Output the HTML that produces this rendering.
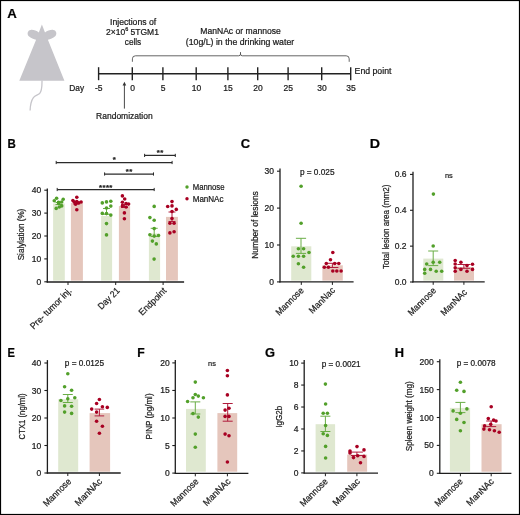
<!DOCTYPE html>
<html><head><meta charset="utf-8"><style>
html,body{margin:0;padding:0;background:#fff;}
body{width:520px;height:515px;overflow:hidden;}
svg{display:block;font-family:"Liberation Sans", sans-serif;will-change:transform;} text{stroke:#1a1a1a;stroke-width:0.22px;}
</style></head><body>
<svg width="520" height="515" viewBox="0 0 520 515">
<rect x="0" y="0" width="520" height="515" fill="#fff"/>
<g transform="translate(-0.760,0) scale(1.1000,1)"><text x="7.30" y="17.70" font-size="12" font-weight="bold" fill="#000">A</text></g>
<path d="M41.9,24.4 L45.0,32.6 C47.4,30.6 50.6,29.6 53.3,29.9 C56.6,30.3 57.2,34.2 55.2,36.2 C53.2,38.2 50.2,38.9 47.9,39.7 L64.4,80.7 L19.3,80.7 L36.1,39.7 C33.8,38.9 30.8,38.2 28.8,36.2 C26.8,34.2 27.4,30.3 30.7,29.9 C33.4,29.6 36.5,30.6 38.8,32.6 Z" fill="#c6c5ca"/>
<path d="M42,80.5 C42,86 42.2,91 39.6,93.6 C37.6,95.4 35.3,95.2 33.4,97.6 C31.2,100.6 30.3,105 30.1,110.5" fill="none" stroke="#c6c5ca" stroke-width="1.3"/>
<line x1="98.60" y1="73.80" x2="350.70" y2="73.80" stroke="#222" stroke-width="1.4"/>
<line x1="98.60" y1="67.20" x2="98.60" y2="80.20" stroke="#222" stroke-width="1.4"/>
<text x="98.80" y="90.70" font-size="8.5" text-anchor="middle" font-weight="normal" fill="#1a1a1a">-5</text>
<line x1="132.30" y1="67.20" x2="132.30" y2="80.20" stroke="#222" stroke-width="1.4"/>
<text x="132.50" y="90.70" font-size="8.5" text-anchor="middle" font-weight="normal" fill="#1a1a1a">0</text>
<line x1="162.90" y1="67.20" x2="162.90" y2="80.20" stroke="#222" stroke-width="1.4"/>
<text x="163.10" y="90.70" font-size="8.5" text-anchor="middle" font-weight="normal" fill="#1a1a1a">5</text>
<line x1="196.20" y1="67.20" x2="196.20" y2="80.20" stroke="#222" stroke-width="1.4"/>
<text x="196.40" y="90.70" font-size="8.5" text-anchor="middle" font-weight="normal" fill="#1a1a1a">10</text>
<line x1="227.90" y1="67.20" x2="227.90" y2="80.20" stroke="#222" stroke-width="1.4"/>
<text x="228.10" y="90.70" font-size="8.5" text-anchor="middle" font-weight="normal" fill="#1a1a1a">15</text>
<line x1="257.70" y1="67.20" x2="257.70" y2="80.20" stroke="#222" stroke-width="1.4"/>
<text x="257.90" y="90.70" font-size="8.5" text-anchor="middle" font-weight="normal" fill="#1a1a1a">20</text>
<line x1="288.10" y1="67.20" x2="288.10" y2="80.20" stroke="#222" stroke-width="1.4"/>
<text x="288.30" y="90.70" font-size="8.5" text-anchor="middle" font-weight="normal" fill="#1a1a1a">25</text>
<line x1="321.70" y1="67.20" x2="321.70" y2="80.20" stroke="#222" stroke-width="1.4"/>
<text x="321.90" y="90.70" font-size="8.5" text-anchor="middle" font-weight="normal" fill="#1a1a1a">30</text>
<line x1="350.70" y1="67.20" x2="350.70" y2="80.20" stroke="#222" stroke-width="1.4"/>
<text x="350.90" y="90.70" font-size="8.5" text-anchor="middle" font-weight="normal" fill="#1a1a1a">35</text>
<text x="69.30" y="90.70" font-size="8.5" text-anchor="start" font-weight="normal" fill="#1a1a1a" textLength="14.80" lengthAdjust="spacingAndGlyphs">Day</text>
<text x="354.60" y="73.90" font-size="8.5" text-anchor="start" font-weight="normal" fill="#1a1a1a" textLength="36.80" lengthAdjust="spacingAndGlyphs">End point</text>
<line x1="124.40" y1="84.00" x2="124.40" y2="108.60" stroke="#333" stroke-width="0.9"/>
<path d="M124.4,81.8 L122.6,85.6 L126.2,85.6 Z" fill="#333"/>
<text x="96.10" y="119.30" font-size="8.5" text-anchor="start" font-weight="normal" fill="#1a1a1a" textLength="56.60" lengthAdjust="spacingAndGlyphs">Randomization</text>
<text x="110.00" y="24.50" font-size="8.5" text-anchor="start" font-weight="normal" fill="#1a1a1a" textLength="46.20" lengthAdjust="spacingAndGlyphs">Injections of</text>
<text x="106.0" y="34.7" font-size="8.5" fill="#1a1a1a">2×10<tspan font-size="5.5" dy="-3.3">6</tspan><tspan dy="3.3"> 5TGM1</tspan></text>
<text x="124.80" y="44.70" font-size="8.5" text-anchor="start" font-weight="normal" fill="#1a1a1a" textLength="16.40" lengthAdjust="spacingAndGlyphs">cells</text>
<text x="200.30" y="34.40" font-size="8.5" text-anchor="start" font-weight="normal" fill="#1a1a1a" textLength="80.50" lengthAdjust="spacingAndGlyphs">ManNAc or mannose</text>
<text x="185.80" y="44.60" font-size="8.5" text-anchor="start" font-weight="normal" fill="#1a1a1a" textLength="108.40" lengthAdjust="spacingAndGlyphs">(10g/L) in the drinking water</text>
<path d="M132.4,61.8 L132.4,58.8 Q132.4,55.8 135.4,55.8 L238.8,55.8 Q240.5,55.8 240.5,54.0 L240.5,52.3 L240.5,54.0 Q240.5,55.8 242.2,55.8 L346.2,55.8 Q349.2,55.8 349.2,58.8 L349.2,61.8" fill="none" stroke="#555" stroke-width="0.9"/>
<g transform="translate(-0.064,0) scale(0.9600,1)"><text x="7.80" y="147.80" font-size="12" font-weight="bold" fill="#000">B</text></g>
<line x1="47.30" y1="188.60" x2="47.30" y2="282.60" stroke="#1e1e1e" stroke-width="1.3"/>
<line x1="44.30" y1="281.80" x2="47.30" y2="281.80" stroke="#1e1e1e" stroke-width="1.1"/>
<text x="41.30" y="284.80" font-size="8.5" text-anchor="end" font-weight="normal" fill="#1a1a1a">0</text>
<line x1="44.30" y1="258.90" x2="47.30" y2="258.90" stroke="#1e1e1e" stroke-width="1.1"/>
<text x="41.30" y="261.90" font-size="8.5" text-anchor="end" font-weight="normal" fill="#1a1a1a">10</text>
<line x1="44.30" y1="236.00" x2="47.30" y2="236.00" stroke="#1e1e1e" stroke-width="1.1"/>
<text x="41.30" y="239.00" font-size="8.5" text-anchor="end" font-weight="normal" fill="#1a1a1a">20</text>
<line x1="44.30" y1="213.10" x2="47.30" y2="213.10" stroke="#1e1e1e" stroke-width="1.1"/>
<text x="41.30" y="216.10" font-size="8.5" text-anchor="end" font-weight="normal" fill="#1a1a1a">30</text>
<line x1="44.30" y1="190.20" x2="47.30" y2="190.20" stroke="#1e1e1e" stroke-width="1.1"/>
<text x="41.30" y="193.20" font-size="8.5" text-anchor="end" font-weight="normal" fill="#1a1a1a">40</text>
<rect x="53.10" y="203.50" width="11.70" height="77.10" fill="#dfe8d0"/>
<rect x="70.90" y="202.80" width="12.00" height="77.80" fill="#e5c6bc"/>
<rect x="101.10" y="216.00" width="11.00" height="64.60" fill="#dfe8d0"/>
<rect x="118.90" y="206.10" width="11.20" height="74.50" fill="#e5c6bc"/>
<rect x="148.90" y="233.50" width="11.20" height="47.10" fill="#dfe8d0"/>
<rect x="166.00" y="216.90" width="11.90" height="63.70" fill="#e5c6bc"/>
<line x1="46.70" y1="282.00" x2="184.10" y2="282.00" stroke="#1e1e1e" stroke-width="1.3"/>
<line x1="68.00" y1="282.00" x2="68.00" y2="285.00" stroke="#1e1e1e" stroke-width="1.0"/>
<line x1="115.70" y1="282.00" x2="115.70" y2="285.00" stroke="#1e1e1e" stroke-width="1.0"/>
<line x1="163.10" y1="282.00" x2="163.10" y2="285.00" stroke="#1e1e1e" stroke-width="1.0"/>
<line x1="106.50" y1="208.50" x2="106.50" y2="214.30" stroke="#6aad46" stroke-width="1.0"/>
<line x1="103.00" y1="208.50" x2="110.00" y2="208.50" stroke="#6aad46" stroke-width="1.0"/>
<line x1="103.00" y1="214.30" x2="110.00" y2="214.30" stroke="#6aad46" stroke-width="1.0"/>
<line x1="154.20" y1="228.30" x2="154.20" y2="236.50" stroke="#6aad46" stroke-width="1.0"/>
<line x1="150.70" y1="228.30" x2="157.70" y2="228.30" stroke="#6aad46" stroke-width="1.0"/>
<line x1="150.70" y1="236.50" x2="157.70" y2="236.50" stroke="#6aad46" stroke-width="1.0"/>
<line x1="172.00" y1="212.00" x2="172.00" y2="221.50" stroke="#b01c3c" stroke-width="1.0"/>
<line x1="168.50" y1="212.00" x2="175.50" y2="212.00" stroke="#b01c3c" stroke-width="1.0"/>
<line x1="168.50" y1="221.50" x2="175.50" y2="221.50" stroke="#b01c3c" stroke-width="1.0"/>
<line x1="59.00" y1="202.50" x2="59.00" y2="204.50" stroke="#6aad46" stroke-width="1.0"/>
<line x1="55.50" y1="202.50" x2="62.50" y2="202.50" stroke="#6aad46" stroke-width="1.0"/>
<line x1="55.50" y1="204.50" x2="62.50" y2="204.50" stroke="#6aad46" stroke-width="1.0"/>
<line x1="76.80" y1="201.80" x2="76.80" y2="203.80" stroke="#b01c3c" stroke-width="1.0"/>
<line x1="73.30" y1="201.80" x2="80.30" y2="201.80" stroke="#b01c3c" stroke-width="1.0"/>
<line x1="73.30" y1="203.80" x2="80.30" y2="203.80" stroke="#b01c3c" stroke-width="1.0"/>
<line x1="124.50" y1="204.50" x2="124.50" y2="207.50" stroke="#b01c3c" stroke-width="1.0"/>
<line x1="121.00" y1="204.50" x2="128.00" y2="204.50" stroke="#b01c3c" stroke-width="1.0"/>
<line x1="121.00" y1="207.50" x2="128.00" y2="207.50" stroke="#b01c3c" stroke-width="1.0"/>
<circle cx="56.60" cy="198.30" r="1.8" fill="#52a02a"/>
<circle cx="63.20" cy="199.30" r="1.8" fill="#52a02a"/>
<circle cx="54.30" cy="200.80" r="1.8" fill="#52a02a"/>
<circle cx="58.50" cy="202.40" r="1.8" fill="#52a02a"/>
<circle cx="61.70" cy="202.00" r="1.8" fill="#52a02a"/>
<circle cx="61.70" cy="205.90" r="1.8" fill="#52a02a"/>
<circle cx="59.30" cy="207.00" r="1.8" fill="#52a02a"/>
<circle cx="56.20" cy="208.40" r="1.8" fill="#52a02a"/>
<circle cx="58.80" cy="203.40" r="1.8" fill="#52a02a"/>
<circle cx="102.30" cy="202.90" r="1.8" fill="#52a02a"/>
<circle cx="106.50" cy="201.90" r="1.8" fill="#52a02a"/>
<circle cx="110.80" cy="201.20" r="1.8" fill="#52a02a"/>
<circle cx="110.80" cy="206.10" r="1.8" fill="#52a02a"/>
<circle cx="106.50" cy="208.00" r="1.8" fill="#52a02a"/>
<circle cx="102.30" cy="213.40" r="1.8" fill="#52a02a"/>
<circle cx="106.50" cy="213.60" r="1.8" fill="#52a02a"/>
<circle cx="110.80" cy="215.10" r="1.8" fill="#52a02a"/>
<circle cx="106.50" cy="223.60" r="1.8" fill="#52a02a"/>
<circle cx="106.50" cy="234.90" r="1.8" fill="#52a02a"/>
<circle cx="154.20" cy="228.60" r="1.8" fill="#52a02a"/>
<circle cx="154.20" cy="206.40" r="1.8" fill="#52a02a"/>
<circle cx="149.90" cy="217.60" r="1.8" fill="#52a02a"/>
<circle cx="154.20" cy="220.30" r="1.8" fill="#52a02a"/>
<circle cx="149.90" cy="234.70" r="1.8" fill="#52a02a"/>
<circle cx="154.20" cy="236.10" r="1.8" fill="#52a02a"/>
<circle cx="158.50" cy="235.50" r="1.8" fill="#52a02a"/>
<circle cx="152.40" cy="241.10" r="1.8" fill="#52a02a"/>
<circle cx="156.30" cy="243.90" r="1.8" fill="#52a02a"/>
<circle cx="154.10" cy="259.10" r="1.8" fill="#52a02a"/>
<circle cx="76.80" cy="197.30" r="1.8" fill="#a80022"/>
<circle cx="72.90" cy="200.60" r="1.8" fill="#a80022"/>
<circle cx="76.80" cy="201.60" r="1.8" fill="#a80022"/>
<circle cx="81.10" cy="202.00" r="1.8" fill="#a80022"/>
<circle cx="75.60" cy="204.30" r="1.8" fill="#a80022"/>
<circle cx="76.80" cy="209.80" r="1.8" fill="#a80022"/>
<circle cx="78.50" cy="203.00" r="1.8" fill="#a80022"/>
<circle cx="74.30" cy="202.00" r="1.8" fill="#a80022"/>
<circle cx="122.40" cy="195.90" r="1.8" fill="#a80022"/>
<circle cx="124.70" cy="199.00" r="1.8" fill="#a80022"/>
<circle cx="122.40" cy="202.20" r="1.8" fill="#a80022"/>
<circle cx="126.10" cy="203.50" r="1.8" fill="#a80022"/>
<circle cx="128.60" cy="204.10" r="1.8" fill="#a80022"/>
<circle cx="122.40" cy="206.10" r="1.8" fill="#a80022"/>
<circle cx="126.10" cy="207.00" r="1.8" fill="#a80022"/>
<circle cx="124.40" cy="212.90" r="1.8" fill="#a80022"/>
<circle cx="124.40" cy="218.70" r="1.8" fill="#a80022"/>
<circle cx="172.00" cy="201.60" r="1.8" fill="#a80022"/>
<circle cx="167.70" cy="206.50" r="1.8" fill="#a80022"/>
<circle cx="172.00" cy="205.90" r="1.8" fill="#a80022"/>
<circle cx="176.30" cy="209.40" r="1.8" fill="#a80022"/>
<circle cx="172.00" cy="211.50" r="1.8" fill="#a80022"/>
<circle cx="172.00" cy="218.50" r="1.8" fill="#a80022"/>
<circle cx="169.90" cy="223.30" r="1.8" fill="#a80022"/>
<circle cx="174.10" cy="223.30" r="1.8" fill="#a80022"/>
<circle cx="169.90" cy="232.90" r="1.8" fill="#a80022"/>
<circle cx="174.10" cy="231.80" r="1.8" fill="#a80022"/>
<text x="0" y="0" font-size="8.8" text-anchor="middle" fill="#1a1a1a" textLength="51.50" lengthAdjust="spacingAndGlyphs" transform="translate(24.00,234.50) rotate(-90)">Sialylation (%)</text>
<text x="0" y="0" font-size="9.2" text-anchor="end" fill="#1a1a1a" textLength="54.50" lengthAdjust="spacingAndGlyphs" transform="translate(72.30,291.30) rotate(-45)">Pre- tumor inj.</text>
<text x="0" y="0" font-size="9.2" text-anchor="end" fill="#1a1a1a" textLength="26.50" lengthAdjust="spacingAndGlyphs" transform="translate(120.30,291.30) rotate(-45)">Day 21</text>
<text x="0" y="0" font-size="9.2" text-anchor="end" fill="#1a1a1a" textLength="35.00" lengthAdjust="spacingAndGlyphs" transform="translate(167.00,291.30) rotate(-45)">Endpoint</text>
<line x1="144.60" y1="155.40" x2="175.30" y2="155.40" stroke="#2a2a2a" stroke-width="1.25"/>
<line x1="144.60" y1="153.80" x2="144.60" y2="157.00" stroke="#2a2a2a" stroke-width="1.0"/>
<line x1="175.30" y1="153.80" x2="175.30" y2="157.00" stroke="#2a2a2a" stroke-width="1.0"/>
<text x="158.22" y="155.00" font-size="7.8" text-anchor="middle" font-weight="bold" fill="#222">*</text>
<text x="161.67" y="155.00" font-size="7.8" text-anchor="middle" font-weight="bold" fill="#222">*</text>
<line x1="56.20" y1="162.50" x2="172.10" y2="162.50" stroke="#2a2a2a" stroke-width="1.25"/>
<line x1="56.20" y1="160.90" x2="56.20" y2="164.10" stroke="#2a2a2a" stroke-width="1.0"/>
<line x1="172.10" y1="160.90" x2="172.10" y2="164.10" stroke="#2a2a2a" stroke-width="1.0"/>
<text x="114.15" y="162.20" font-size="7.8" text-anchor="middle" font-weight="bold" fill="#222">*</text>
<line x1="104.60" y1="174.00" x2="153.50" y2="174.00" stroke="#2a2a2a" stroke-width="1.25"/>
<line x1="104.60" y1="172.40" x2="104.60" y2="175.60" stroke="#2a2a2a" stroke-width="1.0"/>
<line x1="153.50" y1="172.40" x2="153.50" y2="175.60" stroke="#2a2a2a" stroke-width="1.0"/>
<text x="127.33" y="173.70" font-size="7.8" text-anchor="middle" font-weight="bold" fill="#222">*</text>
<text x="130.78" y="173.70" font-size="7.8" text-anchor="middle" font-weight="bold" fill="#222">*</text>
<line x1="57.20" y1="189.50" x2="154.20" y2="189.50" stroke="#2a2a2a" stroke-width="1.25"/>
<line x1="57.20" y1="187.90" x2="57.20" y2="191.10" stroke="#2a2a2a" stroke-width="1.0"/>
<line x1="154.20" y1="187.90" x2="154.20" y2="191.10" stroke="#2a2a2a" stroke-width="1.0"/>
<text x="100.52" y="189.60" font-size="7.8" text-anchor="middle" font-weight="bold" fill="#222">*</text>
<text x="103.97" y="189.60" font-size="7.8" text-anchor="middle" font-weight="bold" fill="#222">*</text>
<text x="107.42" y="189.60" font-size="7.8" text-anchor="middle" font-weight="bold" fill="#222">*</text>
<text x="110.87" y="189.60" font-size="7.8" text-anchor="middle" font-weight="bold" fill="#222">*</text>
<circle cx="187.00" cy="187.00" r="1.7" fill="#52a02a"/>
<circle cx="187.00" cy="198.80" r="1.7" fill="#a80022"/>
<text x="192.70" y="189.60" font-size="8.5" text-anchor="start" font-weight="normal" fill="#1a1a1a" textLength="31.80" lengthAdjust="spacingAndGlyphs">Mannose</text>
<text x="192.70" y="201.50" font-size="8.5" text-anchor="start" font-weight="normal" fill="#1a1a1a" textLength="30.80" lengthAdjust="spacingAndGlyphs">ManNAc</text>
<g transform="translate(-19.142,0) scale(1.0789,1)"><text x="240.80" y="147.70" font-size="12" font-weight="bold" fill="#000">C</text></g>
<line x1="280.00" y1="168.50" x2="280.00" y2="282.50" stroke="#1e1e1e" stroke-width="1.3"/>
<line x1="277.00" y1="281.90" x2="280.00" y2="281.90" stroke="#1e1e1e" stroke-width="1.1"/>
<text x="274.00" y="284.90" font-size="8.5" text-anchor="end" font-weight="normal" fill="#1a1a1a">0</text>
<line x1="277.00" y1="245.00" x2="280.00" y2="245.00" stroke="#1e1e1e" stroke-width="1.1"/>
<text x="274.00" y="248.00" font-size="8.5" text-anchor="end" font-weight="normal" fill="#1a1a1a">10</text>
<line x1="277.00" y1="208.10" x2="280.00" y2="208.10" stroke="#1e1e1e" stroke-width="1.1"/>
<text x="274.00" y="211.10" font-size="8.5" text-anchor="end" font-weight="normal" fill="#1a1a1a">20</text>
<line x1="277.00" y1="171.20" x2="280.00" y2="171.20" stroke="#1e1e1e" stroke-width="1.1"/>
<text x="274.00" y="174.20" font-size="8.5" text-anchor="end" font-weight="normal" fill="#1a1a1a">30</text>
<rect x="291.20" y="246.30" width="20.10" height="34.30" fill="#dfe8d0"/>
<rect x="322.40" y="265.30" width="20.40" height="15.30" fill="#e5c6bc"/>
<line x1="279.40" y1="281.90" x2="353.60" y2="281.90" stroke="#1e1e1e" stroke-width="1.3"/>
<line x1="301.30" y1="281.90" x2="301.30" y2="284.90" stroke="#1e1e1e" stroke-width="1.0"/>
<line x1="332.40" y1="281.90" x2="332.40" y2="284.90" stroke="#1e1e1e" stroke-width="1.0"/>
<line x1="301.00" y1="238.30" x2="301.00" y2="253.40" stroke="#6aad46" stroke-width="1.0"/>
<line x1="295.90" y1="238.30" x2="306.10" y2="238.30" stroke="#6aad46" stroke-width="1.0"/>
<line x1="295.90" y1="253.40" x2="306.10" y2="253.40" stroke="#6aad46" stroke-width="1.0"/>
<line x1="332.40" y1="263.30" x2="332.40" y2="267.50" stroke="#b01c3c" stroke-width="1.0"/>
<line x1="326.40" y1="263.30" x2="338.40" y2="263.30" stroke="#b01c3c" stroke-width="1.0"/>
<line x1="326.40" y1="267.50" x2="338.40" y2="267.50" stroke="#b01c3c" stroke-width="1.0"/>
<circle cx="301.10" cy="186.30" r="1.8" fill="#52a02a"/>
<circle cx="301.10" cy="223.20" r="1.8" fill="#52a02a"/>
<circle cx="298.40" cy="248.70" r="1.8" fill="#52a02a"/>
<circle cx="303.60" cy="248.70" r="1.8" fill="#52a02a"/>
<circle cx="309.00" cy="252.50" r="1.8" fill="#52a02a"/>
<circle cx="293.20" cy="256.30" r="1.8" fill="#52a02a"/>
<circle cx="298.40" cy="256.30" r="1.8" fill="#52a02a"/>
<circle cx="303.60" cy="256.30" r="1.8" fill="#52a02a"/>
<circle cx="298.40" cy="263.70" r="1.8" fill="#52a02a"/>
<circle cx="303.60" cy="267.20" r="1.8" fill="#52a02a"/>
<circle cx="332.80" cy="252.50" r="1.8" fill="#a80022"/>
<circle cx="330.50" cy="259.80" r="1.8" fill="#a80022"/>
<circle cx="326.30" cy="263.50" r="1.8" fill="#a80022"/>
<circle cx="334.70" cy="263.50" r="1.8" fill="#a80022"/>
<circle cx="338.80" cy="263.50" r="1.8" fill="#a80022"/>
<circle cx="324.30" cy="267.20" r="1.8" fill="#a80022"/>
<circle cx="328.40" cy="267.20" r="1.8" fill="#a80022"/>
<circle cx="332.80" cy="271.00" r="1.8" fill="#a80022"/>
<circle cx="336.80" cy="271.00" r="1.8" fill="#a80022"/>
<circle cx="341.10" cy="271.00" r="1.8" fill="#a80022"/>
<text x="299.90" y="175.30" font-size="8.5" text-anchor="start" font-weight="normal" fill="#1a1a1a" textLength="34.60" lengthAdjust="spacingAndGlyphs">p = 0.025</text>
<text x="0" y="0" font-size="8.8" text-anchor="middle" fill="#1a1a1a" textLength="67.50" lengthAdjust="spacingAndGlyphs" transform="translate(257.60,225.00) rotate(-90)">Number of lesions</text>
<text x="0" y="0" font-size="9.2" text-anchor="end" fill="#1a1a1a" textLength="35.50" lengthAdjust="spacingAndGlyphs" transform="translate(304.30,291.00) rotate(-45)">Mannose</text>
<text x="0" y="0" font-size="9.2" text-anchor="end" fill="#1a1a1a" textLength="32.50" lengthAdjust="spacingAndGlyphs" transform="translate(335.60,291.00) rotate(-45)">ManNac</text>
<g transform="translate(-69.653,0) scale(1.1867,1)"><text x="370.30" y="148.10" font-size="12" font-weight="bold" fill="#000">D</text></g>
<line x1="413.00" y1="171.70" x2="413.00" y2="282.60" stroke="#1e1e1e" stroke-width="1.3"/>
<line x1="410.00" y1="282.00" x2="413.00" y2="282.00" stroke="#1e1e1e" stroke-width="1.1"/>
<text x="406.60" y="285.00" font-size="8.5" text-anchor="end" font-weight="normal" fill="#1a1a1a">0.0</text>
<line x1="410.00" y1="246.14" x2="413.00" y2="246.14" stroke="#1e1e1e" stroke-width="1.1"/>
<text x="406.60" y="249.14" font-size="8.5" text-anchor="end" font-weight="normal" fill="#1a1a1a">0.2</text>
<line x1="410.00" y1="210.28" x2="413.00" y2="210.28" stroke="#1e1e1e" stroke-width="1.1"/>
<text x="406.60" y="213.28" font-size="8.5" text-anchor="end" font-weight="normal" fill="#1a1a1a">0.4</text>
<line x1="410.00" y1="174.42" x2="413.00" y2="174.42" stroke="#1e1e1e" stroke-width="1.1"/>
<text x="406.60" y="177.42" font-size="8.5" text-anchor="end" font-weight="normal" fill="#1a1a1a">0.6</text>
<rect x="423.30" y="258.60" width="20.00" height="22.00" fill="#dfe8d0"/>
<rect x="454.00" y="267.10" width="20.00" height="13.50" fill="#e5c6bc"/>
<line x1="412.40" y1="281.80" x2="484.70" y2="281.80" stroke="#1e1e1e" stroke-width="1.3"/>
<line x1="433.20" y1="281.80" x2="433.20" y2="284.80" stroke="#1e1e1e" stroke-width="1.0"/>
<line x1="463.90" y1="281.80" x2="463.90" y2="284.80" stroke="#1e1e1e" stroke-width="1.0"/>
<line x1="433.20" y1="251.00" x2="433.20" y2="265.60" stroke="#6aad46" stroke-width="1.0"/>
<line x1="428.20" y1="251.00" x2="438.20" y2="251.00" stroke="#6aad46" stroke-width="1.0"/>
<line x1="428.20" y1="265.60" x2="438.20" y2="265.60" stroke="#6aad46" stroke-width="1.0"/>
<line x1="463.90" y1="264.50" x2="463.90" y2="268.30" stroke="#b01c3c" stroke-width="1.0"/>
<line x1="457.40" y1="264.50" x2="470.40" y2="264.50" stroke="#b01c3c" stroke-width="1.0"/>
<line x1="457.40" y1="268.30" x2="470.40" y2="268.30" stroke="#b01c3c" stroke-width="1.0"/>
<circle cx="433.40" cy="194.10" r="1.8" fill="#52a02a"/>
<circle cx="433.20" cy="246.00" r="1.8" fill="#52a02a"/>
<circle cx="426.70" cy="264.00" r="1.8" fill="#52a02a"/>
<circle cx="433.20" cy="262.20" r="1.8" fill="#52a02a"/>
<circle cx="439.70" cy="262.20" r="1.8" fill="#52a02a"/>
<circle cx="424.70" cy="269.40" r="1.8" fill="#52a02a"/>
<circle cx="430.50" cy="269.40" r="1.8" fill="#52a02a"/>
<circle cx="436.20" cy="271.20" r="1.8" fill="#52a02a"/>
<circle cx="441.70" cy="271.20" r="1.8" fill="#52a02a"/>
<circle cx="424.70" cy="273.20" r="1.8" fill="#52a02a"/>
<circle cx="455.20" cy="260.50" r="1.8" fill="#a80022"/>
<circle cx="460.90" cy="262.20" r="1.8" fill="#a80022"/>
<circle cx="472.50" cy="264.20" r="1.8" fill="#a80022"/>
<circle cx="455.20" cy="264.00" r="1.8" fill="#a80022"/>
<circle cx="467.00" cy="265.60" r="1.8" fill="#a80022"/>
<circle cx="455.20" cy="267.70" r="1.8" fill="#a80022"/>
<circle cx="460.90" cy="269.40" r="1.8" fill="#a80022"/>
<circle cx="472.50" cy="269.40" r="1.8" fill="#a80022"/>
<circle cx="455.20" cy="271.20" r="1.8" fill="#a80022"/>
<circle cx="467.00" cy="271.20" r="1.8" fill="#a80022"/>
<text x="445.00" y="177.60" font-size="8" text-anchor="start" font-weight="normal" fill="#1a1a1a" textLength="7.80" lengthAdjust="spacingAndGlyphs">ns</text>
<text x="0" y="0" font-size="8.8" text-anchor="middle" fill="#1a1a1a" textLength="84.50" lengthAdjust="spacingAndGlyphs" transform="translate(388.50,226.70) rotate(-90)">Total lesion area (mm2)</text>
<text x="0" y="0" font-size="9.2" text-anchor="end" fill="#1a1a1a" textLength="35.50" lengthAdjust="spacingAndGlyphs" transform="translate(436.60,291.20) rotate(-45)">Mannose</text>
<text x="0" y="0" font-size="9.2" text-anchor="end" fill="#1a1a1a" textLength="33.00" lengthAdjust="spacingAndGlyphs" transform="translate(467.60,293.00) rotate(-45)">ManNAc</text>
<g transform="translate(0.121,0) scale(0.9286,1)"><text x="7.90" y="356.80" font-size="12" font-weight="bold" fill="#000">E</text></g>
<line x1="47.40" y1="360.10" x2="47.40" y2="473.60" stroke="#1e1e1e" stroke-width="1.3"/>
<line x1="44.40" y1="473.00" x2="47.40" y2="473.00" stroke="#1e1e1e" stroke-width="1.1"/>
<text x="41.20" y="476.00" font-size="8.5" text-anchor="end" font-weight="normal" fill="#1a1a1a">0</text>
<line x1="44.40" y1="445.50" x2="47.40" y2="445.50" stroke="#1e1e1e" stroke-width="1.1"/>
<text x="41.20" y="448.50" font-size="8.5" text-anchor="end" font-weight="normal" fill="#1a1a1a">10</text>
<line x1="44.40" y1="418.00" x2="47.40" y2="418.00" stroke="#1e1e1e" stroke-width="1.1"/>
<text x="41.20" y="421.00" font-size="8.5" text-anchor="end" font-weight="normal" fill="#1a1a1a">20</text>
<line x1="44.40" y1="390.50" x2="47.40" y2="390.50" stroke="#1e1e1e" stroke-width="1.1"/>
<text x="41.20" y="393.50" font-size="8.5" text-anchor="end" font-weight="normal" fill="#1a1a1a">30</text>
<line x1="44.40" y1="363.00" x2="47.40" y2="363.00" stroke="#1e1e1e" stroke-width="1.1"/>
<text x="41.20" y="366.00" font-size="8.5" text-anchor="end" font-weight="normal" fill="#1a1a1a">40</text>
<rect x="58.20" y="399.20" width="20.00" height="72.50" fill="#dfe8d0"/>
<rect x="89.60" y="413.10" width="20.50" height="58.60" fill="#e5c6bc"/>
<line x1="46.80" y1="473.00" x2="120.70" y2="473.00" stroke="#1e1e1e" stroke-width="1.3"/>
<line x1="67.80" y1="473.00" x2="67.80" y2="476.00" stroke="#1e1e1e" stroke-width="1.0"/>
<line x1="99.40" y1="473.00" x2="99.40" y2="476.00" stroke="#1e1e1e" stroke-width="1.0"/>
<line x1="67.80" y1="394.50" x2="67.80" y2="402.50" stroke="#6aad46" stroke-width="1.0"/>
<line x1="62.80" y1="394.50" x2="72.80" y2="394.50" stroke="#6aad46" stroke-width="1.0"/>
<line x1="62.80" y1="402.50" x2="72.80" y2="402.50" stroke="#6aad46" stroke-width="1.0"/>
<line x1="99.40" y1="409.10" x2="99.40" y2="415.90" stroke="#b01c3c" stroke-width="1.0"/>
<line x1="94.60" y1="409.10" x2="104.20" y2="409.10" stroke="#b01c3c" stroke-width="1.0"/>
<line x1="94.60" y1="415.90" x2="104.20" y2="415.90" stroke="#b01c3c" stroke-width="1.0"/>
<circle cx="67.80" cy="373.80" r="1.8" fill="#52a02a"/>
<circle cx="64.60" cy="386.70" r="1.8" fill="#52a02a"/>
<circle cx="71.60" cy="390.30" r="1.8" fill="#52a02a"/>
<circle cx="60.90" cy="400.50" r="1.8" fill="#52a02a"/>
<circle cx="67.80" cy="398.80" r="1.8" fill="#52a02a"/>
<circle cx="74.80" cy="397.80" r="1.8" fill="#52a02a"/>
<circle cx="64.60" cy="405.90" r="1.8" fill="#52a02a"/>
<circle cx="71.60" cy="406.30" r="1.8" fill="#52a02a"/>
<circle cx="64.60" cy="412.10" r="1.8" fill="#52a02a"/>
<circle cx="71.60" cy="413.40" r="1.8" fill="#52a02a"/>
<circle cx="99.40" cy="399.50" r="1.8" fill="#a80022"/>
<circle cx="96.60" cy="403.50" r="1.8" fill="#a80022"/>
<circle cx="102.40" cy="406.70" r="1.8" fill="#a80022"/>
<circle cx="91.70" cy="409.10" r="1.8" fill="#a80022"/>
<circle cx="107.30" cy="407.40" r="1.8" fill="#a80022"/>
<circle cx="96.60" cy="412.10" r="1.8" fill="#a80022"/>
<circle cx="96.60" cy="421.30" r="1.8" fill="#a80022"/>
<circle cx="102.40" cy="426.20" r="1.8" fill="#a80022"/>
<circle cx="99.40" cy="433.20" r="1.8" fill="#a80022"/>
<text x="64.80" y="366.00" font-size="8.5" text-anchor="start" font-weight="normal" fill="#1a1a1a" textLength="39.20" lengthAdjust="spacingAndGlyphs">p = 0.0125</text>
<text x="0" y="0" font-size="8.8" text-anchor="middle" fill="#1a1a1a" textLength="46.00" lengthAdjust="spacingAndGlyphs" transform="translate(25.00,416.40) rotate(-90)">CTX1 (ng/ml)</text>
<text x="0" y="0" font-size="9.2" text-anchor="end" fill="#1a1a1a" textLength="35.50" lengthAdjust="spacingAndGlyphs" transform="translate(71.80,482.00) rotate(-45)">Mannose</text>
<text x="0" y="0" font-size="9.2" text-anchor="end" fill="#1a1a1a" textLength="34.50" lengthAdjust="spacingAndGlyphs" transform="translate(102.80,482.00) rotate(-45)">ManNAc</text>
<g transform="translate(-2.494,0) scale(1.0159,1)"><text x="137.60" y="356.80" font-size="12" font-weight="bold" fill="#000">F</text></g>
<line x1="175.30" y1="360.10" x2="175.30" y2="473.80" stroke="#1e1e1e" stroke-width="1.3"/>
<line x1="172.30" y1="473.10" x2="175.30" y2="473.10" stroke="#1e1e1e" stroke-width="1.1"/>
<text x="169.80" y="476.10" font-size="8.5" text-anchor="end" font-weight="normal" fill="#1a1a1a">0</text>
<line x1="172.30" y1="445.55" x2="175.30" y2="445.55" stroke="#1e1e1e" stroke-width="1.1"/>
<text x="169.80" y="448.55" font-size="8.5" text-anchor="end" font-weight="normal" fill="#1a1a1a">5</text>
<line x1="172.30" y1="418.00" x2="175.30" y2="418.00" stroke="#1e1e1e" stroke-width="1.1"/>
<text x="169.80" y="421.00" font-size="8.5" text-anchor="end" font-weight="normal" fill="#1a1a1a">10</text>
<line x1="172.30" y1="390.45" x2="175.30" y2="390.45" stroke="#1e1e1e" stroke-width="1.1"/>
<text x="169.80" y="393.45" font-size="8.5" text-anchor="end" font-weight="normal" fill="#1a1a1a">15</text>
<line x1="172.30" y1="362.90" x2="175.30" y2="362.90" stroke="#1e1e1e" stroke-width="1.1"/>
<text x="169.80" y="365.90" font-size="8.5" text-anchor="end" font-weight="normal" fill="#1a1a1a">20</text>
<rect x="186.00" y="408.90" width="19.80" height="62.80" fill="#dfe8d0"/>
<rect x="217.40" y="413.10" width="19.80" height="58.60" fill="#e5c6bc"/>
<line x1="174.70" y1="473.30" x2="248.40" y2="473.30" stroke="#1e1e1e" stroke-width="1.3"/>
<line x1="195.30" y1="473.30" x2="195.30" y2="476.30" stroke="#1e1e1e" stroke-width="1.0"/>
<line x1="227.40" y1="473.30" x2="227.40" y2="476.30" stroke="#1e1e1e" stroke-width="1.0"/>
<line x1="195.30" y1="401.90" x2="195.30" y2="414.00" stroke="#6aad46" stroke-width="1.0"/>
<line x1="190.30" y1="401.90" x2="200.30" y2="401.90" stroke="#6aad46" stroke-width="1.0"/>
<line x1="190.30" y1="414.00" x2="200.30" y2="414.00" stroke="#6aad46" stroke-width="1.0"/>
<line x1="227.70" y1="403.50" x2="227.70" y2="421.20" stroke="#b01c3c" stroke-width="1.0"/>
<line x1="222.70" y1="403.50" x2="232.70" y2="403.50" stroke="#b01c3c" stroke-width="1.0"/>
<line x1="222.70" y1="421.20" x2="232.70" y2="421.20" stroke="#b01c3c" stroke-width="1.0"/>
<circle cx="195.30" cy="382.10" r="1.8" fill="#52a02a"/>
<circle cx="195.30" cy="394.50" r="1.8" fill="#52a02a"/>
<circle cx="193.00" cy="397.70" r="1.8" fill="#52a02a"/>
<circle cx="198.30" cy="396.10" r="1.8" fill="#52a02a"/>
<circle cx="203.40" cy="397.70" r="1.8" fill="#52a02a"/>
<circle cx="187.60" cy="401.50" r="1.8" fill="#52a02a"/>
<circle cx="193.00" cy="413.60" r="1.8" fill="#52a02a"/>
<circle cx="198.30" cy="417.10" r="1.8" fill="#52a02a"/>
<circle cx="195.30" cy="434.10" r="1.8" fill="#52a02a"/>
<circle cx="195.30" cy="447.30" r="1.8" fill="#52a02a"/>
<circle cx="227.40" cy="370.50" r="1.8" fill="#a80022"/>
<circle cx="227.40" cy="375.80" r="1.8" fill="#a80022"/>
<circle cx="227.40" cy="394.90" r="1.8" fill="#a80022"/>
<circle cx="229.00" cy="408.20" r="1.8" fill="#a80022"/>
<circle cx="225.10" cy="410.10" r="1.8" fill="#a80022"/>
<circle cx="225.10" cy="416.40" r="1.8" fill="#a80022"/>
<circle cx="229.00" cy="416.40" r="1.8" fill="#a80022"/>
<circle cx="225.10" cy="434.10" r="1.8" fill="#a80022"/>
<circle cx="229.00" cy="435.70" r="1.8" fill="#a80022"/>
<circle cx="227.40" cy="462.00" r="1.8" fill="#a80022"/>
<text x="208.10" y="366.40" font-size="8" text-anchor="start" font-weight="normal" fill="#1a1a1a" textLength="7.80" lengthAdjust="spacingAndGlyphs">ns</text>
<text x="0" y="0" font-size="8.8" text-anchor="middle" fill="#1a1a1a" textLength="46.00" lengthAdjust="spacingAndGlyphs" transform="translate(152.00,416.40) rotate(-90)">PINP (pg/ml)</text>
<text x="0" y="0" font-size="9.2" text-anchor="end" fill="#1a1a1a" textLength="35.50" lengthAdjust="spacingAndGlyphs" transform="translate(199.20,482.00) rotate(-45)">Mannose</text>
<text x="0" y="0" font-size="9.2" text-anchor="end" fill="#1a1a1a" textLength="34.50" lengthAdjust="spacingAndGlyphs" transform="translate(231.10,482.00) rotate(-45)">ManNAc</text>
<g transform="translate(-19.186,0) scale(1.0723,1)"><text x="265.10" y="357.20" font-size="12" font-weight="bold" fill="#000">G</text></g>
<line x1="304.20" y1="360.10" x2="304.20" y2="473.50" stroke="#1e1e1e" stroke-width="1.3"/>
<line x1="301.20" y1="472.90" x2="304.20" y2="472.90" stroke="#1e1e1e" stroke-width="1.1"/>
<text x="298.60" y="475.90" font-size="8.5" text-anchor="end" font-weight="normal" fill="#1a1a1a">0</text>
<line x1="301.20" y1="450.94" x2="304.20" y2="450.94" stroke="#1e1e1e" stroke-width="1.1"/>
<text x="298.60" y="453.94" font-size="8.5" text-anchor="end" font-weight="normal" fill="#1a1a1a">2</text>
<line x1="301.20" y1="428.98" x2="304.20" y2="428.98" stroke="#1e1e1e" stroke-width="1.1"/>
<text x="298.60" y="431.98" font-size="8.5" text-anchor="end" font-weight="normal" fill="#1a1a1a">4</text>
<line x1="301.20" y1="407.02" x2="304.20" y2="407.02" stroke="#1e1e1e" stroke-width="1.1"/>
<text x="298.60" y="410.02" font-size="8.5" text-anchor="end" font-weight="normal" fill="#1a1a1a">6</text>
<line x1="301.20" y1="385.06" x2="304.20" y2="385.06" stroke="#1e1e1e" stroke-width="1.1"/>
<text x="298.60" y="388.06" font-size="8.5" text-anchor="end" font-weight="normal" fill="#1a1a1a">8</text>
<line x1="301.20" y1="363.10" x2="304.20" y2="363.10" stroke="#1e1e1e" stroke-width="1.1"/>
<text x="298.60" y="366.10" font-size="8.5" text-anchor="end" font-weight="normal" fill="#1a1a1a">10</text>
<rect x="315.60" y="424.20" width="19.50" height="47.50" fill="#dfe8d0"/>
<rect x="347.20" y="454.60" width="19.90" height="17.10" fill="#e5c6bc"/>
<line x1="303.60" y1="473.20" x2="378.00" y2="473.20" stroke="#1e1e1e" stroke-width="1.3"/>
<line x1="325.40" y1="473.20" x2="325.40" y2="476.20" stroke="#1e1e1e" stroke-width="1.0"/>
<line x1="356.90" y1="473.20" x2="356.90" y2="476.20" stroke="#1e1e1e" stroke-width="1.0"/>
<line x1="325.40" y1="416.20" x2="325.40" y2="431.50" stroke="#6aad46" stroke-width="1.0"/>
<line x1="320.40" y1="416.20" x2="330.40" y2="416.20" stroke="#6aad46" stroke-width="1.0"/>
<line x1="320.40" y1="431.50" x2="330.40" y2="431.50" stroke="#6aad46" stroke-width="1.0"/>
<line x1="356.90" y1="452.10" x2="356.90" y2="455.50" stroke="#b01c3c" stroke-width="1.0"/>
<line x1="350.90" y1="452.10" x2="362.90" y2="452.10" stroke="#b01c3c" stroke-width="1.0"/>
<line x1="350.90" y1="455.50" x2="362.90" y2="455.50" stroke="#b01c3c" stroke-width="1.0"/>
<circle cx="325.40" cy="384.10" r="1.8" fill="#52a02a"/>
<circle cx="325.60" cy="404.00" r="1.8" fill="#52a02a"/>
<circle cx="323.20" cy="413.30" r="1.8" fill="#52a02a"/>
<circle cx="327.40" cy="413.30" r="1.8" fill="#52a02a"/>
<circle cx="325.60" cy="425.60" r="1.8" fill="#52a02a"/>
<circle cx="323.20" cy="433.80" r="1.8" fill="#52a02a"/>
<circle cx="327.40" cy="435.40" r="1.8" fill="#52a02a"/>
<circle cx="325.60" cy="446.40" r="1.8" fill="#52a02a"/>
<circle cx="325.60" cy="458.00" r="1.8" fill="#52a02a"/>
<circle cx="357.00" cy="446.60" r="1.8" fill="#a80022"/>
<circle cx="350.00" cy="451.00" r="1.8" fill="#a80022"/>
<circle cx="364.00" cy="449.90" r="1.8" fill="#a80022"/>
<circle cx="350.00" cy="452.90" r="1.8" fill="#a80022"/>
<circle cx="353.50" cy="457.60" r="1.8" fill="#a80022"/>
<circle cx="357.70" cy="455.70" r="1.8" fill="#a80022"/>
<circle cx="364.00" cy="456.40" r="1.8" fill="#a80022"/>
<circle cx="360.50" cy="462.70" r="1.8" fill="#a80022"/>
<text x="321.70" y="367.30" font-size="8.5" text-anchor="start" font-weight="normal" fill="#1a1a1a" textLength="38.90" lengthAdjust="spacingAndGlyphs">p = 0.0021</text>
<text x="0" y="0" font-size="8.8" text-anchor="middle" fill="#1a1a1a" textLength="21.90" lengthAdjust="spacingAndGlyphs" transform="translate(282.00,416.80) rotate(-90)">IgG2b</text>
<text x="0" y="0" font-size="9.2" text-anchor="end" fill="#1a1a1a" textLength="35.50" lengthAdjust="spacingAndGlyphs" transform="translate(328.50,482.00) rotate(-45)">Mannose</text>
<text x="0" y="0" font-size="9.2" text-anchor="end" fill="#1a1a1a" textLength="34.50" lengthAdjust="spacingAndGlyphs" transform="translate(360.60,482.00) rotate(-45)">ManNac</text>
<g transform="translate(-27.900,0) scale(1.0694,1)"><text x="395.30" y="356.80" font-size="12" font-weight="bold" fill="#000">H</text></g>
<line x1="439.80" y1="359.30" x2="439.80" y2="473.90" stroke="#1e1e1e" stroke-width="1.3"/>
<line x1="436.80" y1="473.30" x2="439.80" y2="473.30" stroke="#1e1e1e" stroke-width="1.1"/>
<text x="433.80" y="476.30" font-size="8.5" text-anchor="end" font-weight="normal" fill="#1a1a1a">0</text>
<line x1="436.80" y1="445.40" x2="439.80" y2="445.40" stroke="#1e1e1e" stroke-width="1.1"/>
<text x="433.80" y="448.40" font-size="8.5" text-anchor="end" font-weight="normal" fill="#1a1a1a">50</text>
<line x1="436.80" y1="417.50" x2="439.80" y2="417.50" stroke="#1e1e1e" stroke-width="1.1"/>
<text x="433.80" y="420.50" font-size="8.5" text-anchor="end" font-weight="normal" fill="#1a1a1a">100</text>
<line x1="436.80" y1="389.60" x2="439.80" y2="389.60" stroke="#1e1e1e" stroke-width="1.1"/>
<text x="433.80" y="392.60" font-size="8.5" text-anchor="end" font-weight="normal" fill="#1a1a1a">150</text>
<line x1="436.80" y1="361.70" x2="439.80" y2="361.70" stroke="#1e1e1e" stroke-width="1.1"/>
<text x="433.80" y="364.70" font-size="8.5" text-anchor="end" font-weight="normal" fill="#1a1a1a">200</text>
<rect x="449.90" y="407.90" width="20.20" height="63.80" fill="#dfe8d0"/>
<rect x="481.50" y="424.20" width="20.10" height="47.50" fill="#e5c6bc"/>
<line x1="439.20" y1="473.30" x2="511.40" y2="473.30" stroke="#1e1e1e" stroke-width="1.3"/>
<line x1="460.40" y1="473.30" x2="460.40" y2="476.30" stroke="#1e1e1e" stroke-width="1.0"/>
<line x1="491.20" y1="473.30" x2="491.20" y2="476.30" stroke="#1e1e1e" stroke-width="1.0"/>
<line x1="460.40" y1="402.40" x2="460.40" y2="412.60" stroke="#6aad46" stroke-width="1.0"/>
<line x1="455.40" y1="402.40" x2="465.40" y2="402.40" stroke="#6aad46" stroke-width="1.0"/>
<line x1="455.40" y1="412.60" x2="465.40" y2="412.60" stroke="#6aad46" stroke-width="1.0"/>
<line x1="491.20" y1="421.00" x2="491.20" y2="426.60" stroke="#b01c3c" stroke-width="1.0"/>
<line x1="486.20" y1="421.00" x2="496.20" y2="421.00" stroke="#b01c3c" stroke-width="1.0"/>
<line x1="486.20" y1="426.60" x2="496.20" y2="426.60" stroke="#b01c3c" stroke-width="1.0"/>
<circle cx="460.40" cy="382.20" r="1.8" fill="#52a02a"/>
<circle cx="456.70" cy="390.20" r="1.8" fill="#52a02a"/>
<circle cx="464.00" cy="391.40" r="1.8" fill="#52a02a"/>
<circle cx="453.10" cy="410.90" r="1.8" fill="#52a02a"/>
<circle cx="466.90" cy="408.90" r="1.8" fill="#52a02a"/>
<circle cx="460.40" cy="413.30" r="1.8" fill="#52a02a"/>
<circle cx="456.70" cy="419.40" r="1.8" fill="#52a02a"/>
<circle cx="464.00" cy="422.50" r="1.8" fill="#52a02a"/>
<circle cx="460.40" cy="430.80" r="1.8" fill="#52a02a"/>
<circle cx="491.20" cy="406.70" r="1.8" fill="#a80022"/>
<circle cx="488.30" cy="418.60" r="1.8" fill="#a80022"/>
<circle cx="493.60" cy="420.10" r="1.8" fill="#a80022"/>
<circle cx="496.00" cy="421.00" r="1.8" fill="#a80022"/>
<circle cx="484.60" cy="425.90" r="1.8" fill="#a80022"/>
<circle cx="490.70" cy="424.20" r="1.8" fill="#a80022"/>
<circle cx="483.90" cy="429.10" r="1.8" fill="#a80022"/>
<circle cx="489.50" cy="429.80" r="1.8" fill="#a80022"/>
<circle cx="494.40" cy="430.80" r="1.8" fill="#a80022"/>
<circle cx="499.20" cy="432.20" r="1.8" fill="#a80022"/>
<text x="456.70" y="366.40" font-size="8.5" text-anchor="start" font-weight="normal" fill="#1a1a1a" textLength="38.90" lengthAdjust="spacingAndGlyphs">p = 0.0078</text>
<text x="0" y="0" font-size="8.8" text-anchor="middle" fill="#1a1a1a" textLength="69.90" lengthAdjust="spacingAndGlyphs" transform="translate(412.00,416.20) rotate(-90)">Spleen weight (mg)</text>
<text x="0" y="0" font-size="9.2" text-anchor="end" fill="#1a1a1a" textLength="35.50" lengthAdjust="spacingAndGlyphs" transform="translate(463.30,482.00) rotate(-45)">Mannose</text>
<text x="0" y="0" font-size="9.2" text-anchor="end" fill="#1a1a1a" textLength="34.50" lengthAdjust="spacingAndGlyphs" transform="translate(494.50,482.00) rotate(-45)">ManNAc</text>
<rect x="0.5" y="0.5" width="519" height="514" fill="none" stroke="#000" stroke-width="1.2"/>
</svg>
</body></html>
